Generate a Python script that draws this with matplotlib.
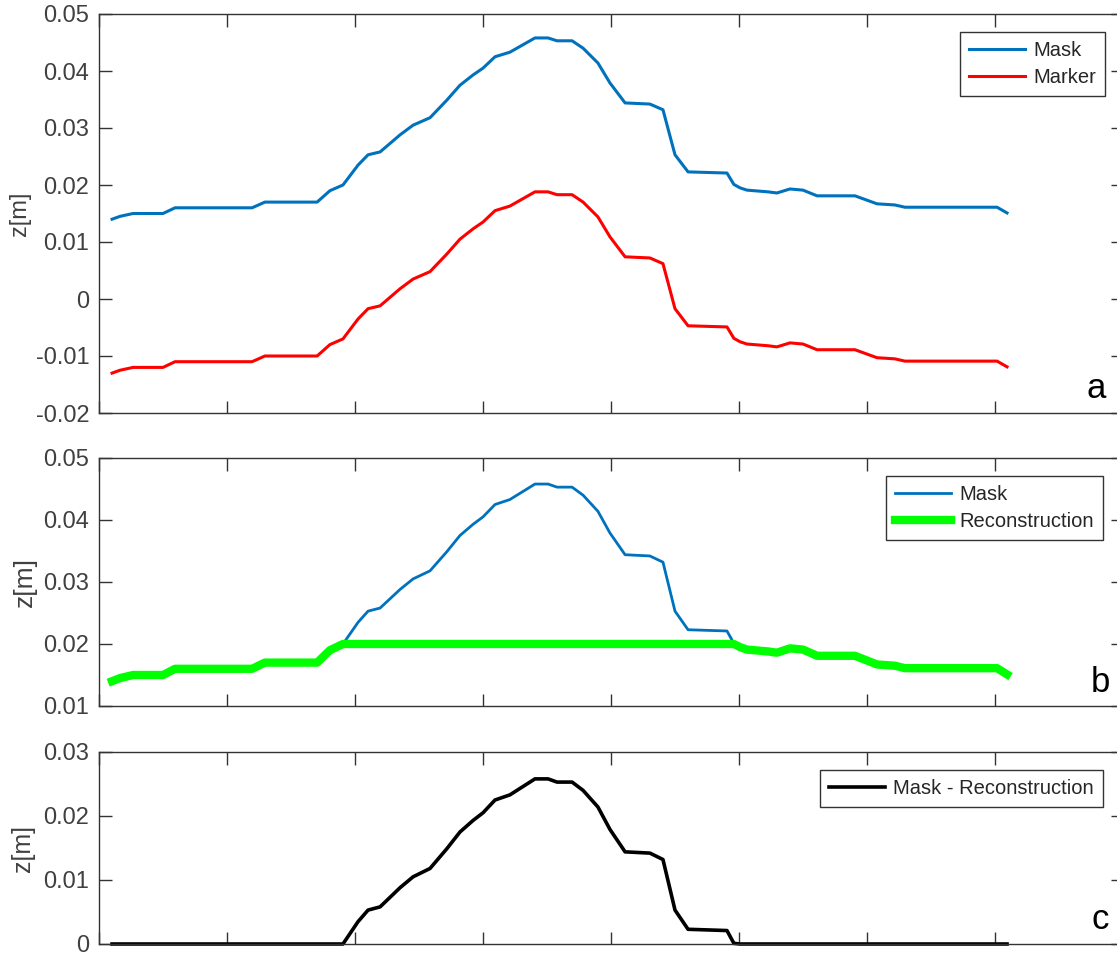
import matplotlib.pyplot as plt
import numpy as np

plt.rcParams['font.family'] = ['Liberation Sans', 'DejaVu Sans']

# profile position (arbitrary units, ticks every 50) and mask height z [m]
x = [5.1, 8.2, 13.3, 25.0, 29.7, 59.8, 64.8, 85.2, 90.2, 95.3, 101.2, 105.1,
     109.8, 117.6, 122.7, 129.3, 135.9, 141.0, 146.1, 150.0, 154.7, 160.5,
     165.6, 170.3, 175.4, 178.9, 184.8, 189.1, 194.9, 199.6, 205.5, 215.2,
     220.3, 225.0, 230.1, 245.3, 248.0, 250.4, 253.1, 261.3, 264.8, 269.9,
     275.0, 280.5, 295.3, 303.9, 310.9, 314.8, 350.8, 354.7]
mask = [0.0140, 0.0145, 0.0150, 0.0150, 0.0160, 0.0160, 0.0170, 0.0170, 0.0190,
        0.0200, 0.0235, 0.0253, 0.0258, 0.0288, 0.0305, 0.0318, 0.0349, 0.0375,
        0.0393, 0.0405, 0.0425, 0.0433, 0.0446, 0.0458, 0.0458, 0.0453, 0.0453,
        0.0440, 0.0414, 0.0379, 0.0344, 0.0342, 0.0332, 0.0253, 0.0223, 0.0221,
        0.0201, 0.0195, 0.0191, 0.0188, 0.0186, 0.0193, 0.0191, 0.0181, 0.0181,
        0.0167, 0.0165, 0.0161, 0.0161, 0.0151]
h = 0.027          # marker = mask - h
level = 0.020      # reconstructed dome level

x = np.array(x)
mask = np.array(mask)
marker = mask - h
recon = np.minimum(mask, level)
diff = mask - recon

W, H = 1117, 958
fig = plt.figure(figsize=(W / 100, H / 100), dpi=100)

txt = '#404040'
blue = '#0072BD'


def make_axes(left, top, right, bottom):
    ax = fig.add_axes([left / W, 1 - bottom / H, (right - left) / W, (bottom - top) / H])
    ax.set_xlim(0, 400)
    ax.set_xticks(np.arange(0, 401, 50))
    ax.tick_params(direction='in', length=9, width=1, colors='#333333', labelcolor=txt,
                   labelsize=17, top=True, right=True, labelbottom=False, pad=7)
    for s in ax.spines.values():
        s.set_color('#333333')
        s.set_linewidth(1)
    return ax


def add_legend(ax, right, top):
    leg = ax.legend(loc='upper right', bbox_to_anchor=(right / W, 1 - top / H),
                    bbox_transform=fig.transFigure, borderaxespad=0, fontsize=14.5,
                    fancybox=False, framealpha=1, edgecolor='#333333', handlelength=2.8,
                    handletextpad=0.4, borderpad=0.45, labelspacing=0.4)
    leg.get_frame().set_linewidth(1)
    for t in leg.get_texts():
        t.set_color('#262626')


# panel a
ax1 = make_axes(99, 14, 1123, 413)
ax1.plot(x, mask, color=blue, lw=2.2, label='Mask')
ax1.plot(x, marker, color='#FF0000', lw=2.2, label='Marker')
ax1.set_ylim(-0.02, 0.05)
ax1.set_yticks([-0.02, -0.01, 0, 0.01, 0.02, 0.03, 0.04, 0.05])
ax1.set_yticklabels(['-0.02', '-0.01', '0', '0.01', '0.02', '0.03', '0.04', '0.05'])
add_legend(ax1, 1105, 32)

# panel b
ax2 = make_axes(99, 458, 1123, 706)
ax2.plot(x, mask, color=blue, lw=2.0, label='Mask')
ax2.plot(x, recon, color='#00FF00', lw=6.0, label='Reconstruction')
ax2.set_ylim(0.01, 0.05)
ax2.set_yticks([0.01, 0.02, 0.03, 0.04, 0.05])
ax2.set_yticklabels(['0.01', '0.02', '0.03', '0.04', '0.05'])
add_legend(ax2, 1103, 476)

# panel c
ax3 = make_axes(99, 752, 1123, 944)
ax3.plot(x, diff, color='black', lw=2.6, label='Mask - Reconstruction', clip_on=False)
ax3.set_ylim(0, 0.03)
ax3.set_yticks([0, 0.01, 0.02, 0.03])
ax3.set_yticklabels(['0', '0.01', '0.02', '0.03'])
add_legend(ax3, 1103, 770)

# y labels and panel letters
fig.text(20 / W, 1 - 214 / H, 'z[m]', rotation=90, ha='center', va='center', fontsize=17, color=txt)
fig.text(25 / W, 1 - 582 / H, 'z[m]', rotation=90, ha='center', va='center', fontsize=19, color=txt)
fig.text(23 / W, 1 - 848 / H, 'z[m]', rotation=90, ha='center', va='center', fontsize=18, color=txt)
fig.text(1096 / W, 1 - 398 / H, 'a', ha='center', va='baseline', fontsize=25, color='black')
fig.text(1100 / W, 1 - 692 / H, 'b', ha='center', va='baseline', fontsize=25, color='black')
fig.text(1100 / W, 1 - 929 / H, 'c', ha='center', va='baseline', fontsize=25, color='black')

fig.savefig('out.png', dpi=100)
